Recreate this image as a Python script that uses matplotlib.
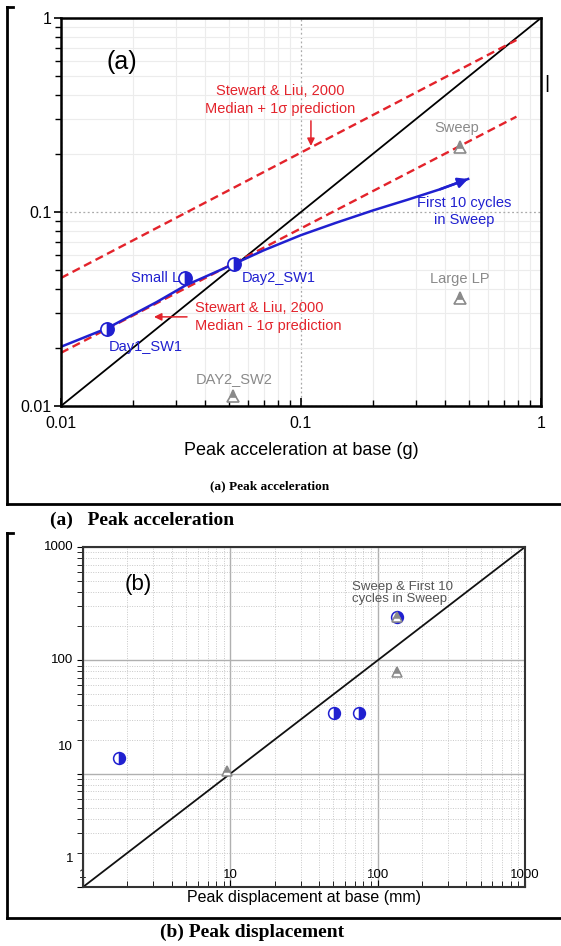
import matplotlib.pyplot as plt
from matplotlib.lines import Line2D
from matplotlib.ticker import LogLocator, NullFormatter

plt.rcParams['font.family'] = ['Liberation Sans', 'DejaVu Sans']

W, H = 561, 946

# (a) peak acceleration, amplification in the soil (g)
circle_names = ['Day1_SW1', 'Small LP', 'Day2_SW1']
acc_circ_x = [0.0156, 0.0329, 0.0526]
acc_circ_y = [0.0249, 0.0457, 0.054]
tri_names = ['DAY2_SW2', 'Large LP', 'Sweep']
acc_tri_x = [0.052, 0.46, 0.46]
acc_tri_y = [0.0113, 0.036, 0.216]
sweep10_x = [0.01, 0.0156, 0.025, 0.033, 0.0526, 0.07, 0.1, 0.14, 0.2, 0.28, 0.38, 0.497]
sweep10_y = [0.0202, 0.0252, 0.0343, 0.0418, 0.054, 0.0635, 0.076, 0.088, 0.102, 0.116, 0.131, 0.148]
sl_x = [0.01, 0.79]
sl_plus = [0.0457, 0.77]
sl_minus = [0.0188, 0.31]
acc_ticks = [0.01, 0.1, 1]
acc_ticklabels = ['0.01', '0.1', '1']

# (b) peak displacement (mm)
disp_circ_x = [1.75, 50.6, 74.8, 135]
disp_circ_y = [13.8, 34.3, 34.3, 241]
disp_tri_x = [9.5, 135, 135]
disp_tri_y = [10.6, 79, 241]
disp_ticks = [1, 10, 100, 1000]
disp_ticklabels = ['1', '10', '100', '1000']

BLUE = '#2020d0'
RED = '#e3232b'
GRAY = '#8a8a8a'

fig = plt.figure(figsize=(W / 100, H / 100), dpi=100)


def px_axes(l, t, r, b):
    return fig.add_axes([l / W, 1 - b / H, (r - l) / W, (b - t) / H])


# ---------------- (a) ----------------
ax = px_axes(61, 18, 541, 406)
ax.set_xscale('log')
ax.set_yscale('log')
ax.set_xlim(0.01, 1)
ax.set_ylim(0.01, 1)

ax.grid(True, which='minor', color='#ececec', lw=0.8)
ax.grid(True, which='major', color='#aaaaaa', lw=0.9, ls=(0, (1.5, 2)))
ax.set_axisbelow(True)

ax.plot([0.01, 1], [0.01, 1], color='black', lw=1.3)
ax.plot(sl_x, sl_plus, color=RED, lw=1.7, ls=(0, (3.5, 2)))
ax.plot(sl_x, sl_minus, color=RED, lw=1.7, ls=(0, (3.5, 2)))
ax.plot(sweep10_x, sweep10_y, color=BLUE, lw=1.8, solid_joinstyle='round')
ax.annotate('', xy=(sweep10_x[-1], sweep10_y[-1]), xytext=(sweep10_x[-2], sweep10_y[-2]),
            arrowprops=dict(arrowstyle='-|>', color=BLUE, lw=1.8, mutation_scale=15,
                            shrinkA=0, shrinkB=0))

ax.plot(acc_circ_x, acc_circ_y, ls='none', marker='o', ms=9.5, fillstyle='right',
        markerfacecolor=BLUE, markerfacecoloralt='white', markeredgecolor=BLUE,
        markeredgewidth=1.2, zorder=5)
ax.plot(acc_tri_x, acc_tri_y, ls='none', marker='^', ms=8, fillstyle='top',
        markerfacecolor=GRAY, markerfacecoloralt='white', markeredgecolor=GRAY,
        markeredgewidth=1.2, zorder=5)

fs = 10.5
ax.text(0.0158, 0.0201, circle_names[0], color=BLUE, fontsize=fs, va='center')
ax.text(0.0345, 0.0457, circle_names[1], color=BLUE, fontsize=fs, va='center', ha='right')
ax.text(0.0567, 0.0457, circle_names[2], color=BLUE, fontsize=fs, va='center')
ax.text(0.0365, 0.0138, tri_names[0], color=GRAY, fontsize=fs, va='center')
ax.text(0.46, 0.0452, tri_names[1], color=GRAY, fontsize=fs, va='center', ha='center')
ax.text(0.445, 0.271, tri_names[2], color=GRAY, fontsize=fs, va='center', ha='center')
ax.text(0.48, 0.101, 'First 10 cycles\nin Sweep', color=BLUE, fontsize=fs,
        va='center', ha='center', linespacing=1.25)
ax.text(0.0179, 0.593, '(a)', fontsize=18, va='center', ha='center')

ax.text(0.0818, 0.378, 'Stewart & Liu, 2000\nMedian + 1\u03c3 prediction', color=RED,
        fontsize=fs, va='center', ha='center', linespacing=1.3)
ax.annotate('', xy=(0.11, 0.219), xytext=(0.11, 0.295),
            arrowprops=dict(arrowstyle='-|>', color=RED, lw=1.1, mutation_scale=11,
                            shrinkA=0, shrinkB=0))
ax.text(0.036, 0.0288, 'Stewart & Liu, 2000\nMedian - 1\u03c3 prediction', color=RED,
        fontsize=fs, va='center', ha='left', linespacing=1.3)
ax.annotate('', xy=(0.0244, 0.0288), xytext=(0.0335, 0.0288),
            arrowprops=dict(arrowstyle='-|>', color=RED, lw=1.1, mutation_scale=11,
                            shrinkA=0, shrinkB=0))

ax.set_xticks(acc_ticks, acc_ticklabels)
ax.set_yticks(acc_ticks, acc_ticklabels)
ax.xaxis.set_minor_locator(LogLocator(base=10, subs=range(2, 10)))
ax.yaxis.set_minor_locator(LogLocator(base=10, subs=range(2, 10)))
ax.xaxis.set_minor_formatter(NullFormatter())
ax.yaxis.set_minor_formatter(NullFormatter())
ax.tick_params(axis='x', which='both', direction='in', labelsize=11.5, pad=7)
ax.tick_params(axis='x', which='major', length=6, width=1.2)
ax.tick_params(axis='x', which='minor', length=4, width=1.0)
ax.tick_params(axis='y', which='both', direction='out', labelsize=11.5, pad=2)
ax.tick_params(axis='y', which='major', length=5, width=1.2)
ax.tick_params(axis='y', which='minor', length=4, width=1.0)
for s in ax.spines.values():
    s.set_linewidth(1.8)
ax.set_xlabel('Peak acceleration at base (g)', fontsize=13, labelpad=8)

fig.text(547 / W, 1 - 83 / H, '|', fontsize=14, ha='center', va='center')
fig.text(270 / W, 1 - 486 / H, '(a) Peak acceleration', family='Liberation Serif',
         weight='bold', fontsize=9.5, ha='center', va='center')
fig.text(50 / W, 1 - 520 / H, '(a)   Peak acceleration', family='Liberation Serif',
         weight='bold', fontsize=14, ha='left', va='center')

# ---------------- (b) ----------------
bx = px_axes(83, 547, 525, 887)
bx.set_xscale('log')
bx.set_yscale('log')
bx.set_xlim(0.9999, 1000)
bx.set_ylim(1, 1000)

bx.grid(True, which='minor', color='#c8c8c8', lw=0.7, ls=(0, (1, 1.5)))
bx.grid(True, which='major', color='#b0b0b0', lw=1.0)
bx.set_axisbelow(True)

bx.plot([1, 1000], [1, 1000], color='#111111', lw=1.3)
bx.plot(disp_tri_x, disp_tri_y, ls='none', marker='^', ms=7.5, fillstyle='top',
        markerfacecolor=GRAY, markerfacecoloralt='white', markeredgecolor=GRAY,
        markeredgewidth=1.1, zorder=5)
bx.plot(disp_circ_x, disp_circ_y, ls='none', marker='o', ms=8.5, fillstyle='right',
        markerfacecolor=BLUE, markerfacecoloralt='white', markeredgecolor=BLUE,
        markeredgewidth=1.1, zorder=4)

bx.text(67, 393, 'Sweep & First 10\ncycles in Sweep', color='#555555', fontsize=9.5,
        ha='left', va='center', linespacing=1.0)
bx.text(2.36, 463, '(b)', fontsize=16, ha='center', va='center')

bx.set_xticks(disp_ticks, disp_ticklabels)
bx.set_yticks(disp_ticks, [''] * len(disp_ticks))
bx.xaxis.set_minor_locator(LogLocator(base=10, subs=range(2, 10)))
bx.yaxis.set_minor_locator(LogLocator(base=10, subs=range(2, 10)))
bx.xaxis.set_minor_formatter(NullFormatter())
bx.yaxis.set_minor_formatter(NullFormatter())
bx.tick_params(axis='x', which='both', direction='in', labelsize=9.5, pad=-13)
bx.tick_params(axis='x', which='major', length=5)
bx.tick_params(axis='x', which='minor', length=4)
bx.tick_params(axis='y', which='both', direction='out', length=4)
# y labels of the lower decades sit higher than their ticks in the source
label_lift = [20.5, 19.5, 0, 0]
for val, lab, lift in zip(disp_ticks, disp_ticklabels, label_lift):
    bx.annotate(lab, xy=(0, val), xycoords=('axes fraction', 'data'),
                xytext=(-7, lift), textcoords='offset points',
                ha='right', va='center', fontsize=9.5)
for s in bx.spines.values():
    s.set_linewidth(1.5)
    s.set_color('#333333')
bx.set_xlabel('Peak displacement at base (mm)', fontsize=11.5, labelpad=2)

fig.text(252 / W, 1 - 932 / H, '(b) Peak displacement', family='Liberation Serif',
         weight='bold', fontsize=14, ha='center', va='center')

# frame brackets around both panels
def frame(top, bottom):
    kw = dict(color='black', lw=2, transform=fig.transFigure)
    fig.add_artist(Line2D([7 / W, 7 / W], [1 - top / H, 1 - bottom / H], **kw))
    fig.add_artist(Line2D([7 / W, 13 / W], [1 - top / H, 1 - top / H], **kw))
    fig.add_artist(Line2D([7 / W, 1], [1 - bottom / H, 1 - bottom / H], **kw))


frame(7, 504)
frame(533, 918)

fig.savefig('out.png', dpi=100)
